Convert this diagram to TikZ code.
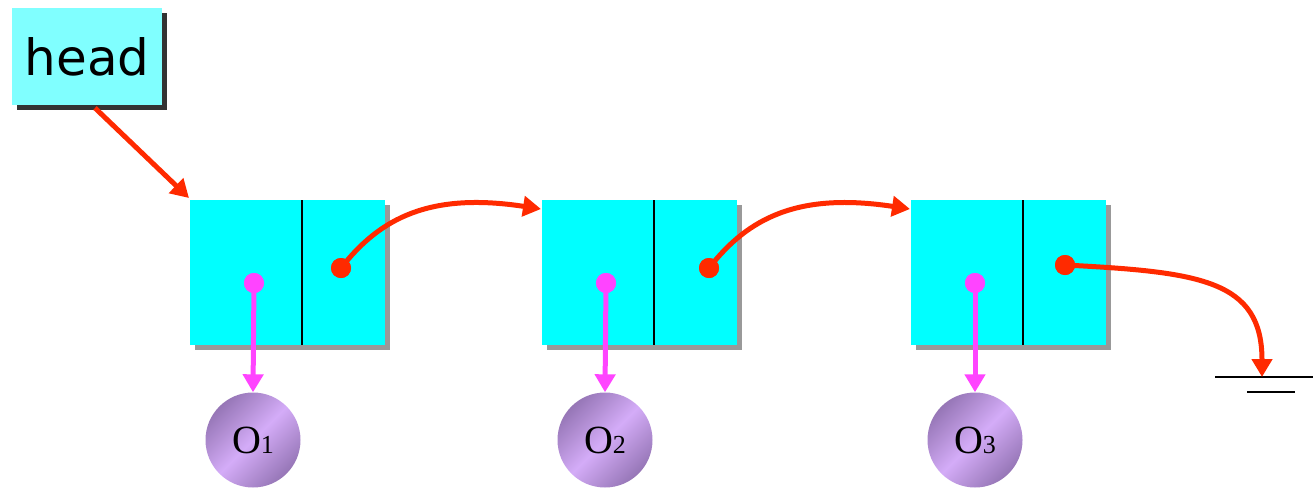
\documentclass[tikz,border=0pt]{standalone}
\usepackage{fontspec}
\setmainfont{Liberation Serif}
\newfontfamily\headfont{DejaVu Sans}
\usetikzlibrary{arrows.meta}
\definecolor{cellcyan}{RGB}{0,255,255}
\definecolor{headcyan}{RGB}{128,255,255}
\definecolor{ptrred}{RGB}{255,42,0}
\definecolor{ptrmag}{RGB}{255,68,255}
\definecolor{objdark}{RGB}{150,118,182}
\definecolor{objlight}{RGB}{212,172,248}
\tikzset{
  cellbox/.style={draw=none, fill=cellcyan, minimum width=195pt, minimum height=145pt, inner sep=0pt},
  cellshadow/.style={fill=black!40},
  reddot/.style={circle, fill=ptrred, minimum size=20pt, inner sep=0pt},
  magdot/.style={circle, fill=ptrmag, minimum size=20pt, inner sep=0pt},
  redptr/.style={draw=ptrred, line width=5pt, -{Triangle[length=18pt,width=20pt]}},
  magptr/.style={draw=ptrmag, line width=5pt, -{Triangle[length=18pt,width=20pt]}},
  objnode/.style={circle, minimum size=95pt, inner sep=0pt, shading=axis, top color=objdark, bottom color=objdark, middle color=objlight, shading angle=45},
}
\newcommand{\objlabel}[1]{{\fontsize{40}{40}\selectfont O}{\fontsize{26}{26}\selectfont #1}}
\begin{document}
\begin{tikzpicture}[x=1pt,y=-1pt]
\useasboundingbox (0,0) rectangle (1313,488);
% head
\fill[black!80] (17,13) rectangle (167,110);
\node[fill=headcyan, minimum width=150pt, minimum height=97pt, inner sep=0pt] (head) at (87,56.5) {\headfont\fontsize{50}{50}\selectfont head};
% cells
\foreach \n/\x in {1/190,2/542,3/911}{
  \fill[cellshadow] (\x+5,205) rectangle (\x+200,350);
  \node[cellbox, anchor=north west] (c\n) at (\x,200) {};
  \draw[line width=1.5pt] (\x+112,200) -- (\x+112,345);
}
% objects
\node[objnode] (o1) at (253,440) {\objlabel{1}};
\node[objnode] (o2) at (605,440) {\objlabel{2}};
\node[objnode] (o3) at (975,440) {\objlabel{3}};
% data pointers
\node[magdot] (m1) at (254,283) {};
\node[magdot] (m2) at (606,283) {};
\node[magdot] (m3) at (975,283) {};
\draw[magptr] (m1.center) -- (o1.north);
\draw[magptr] (m2.center) -- (o2.north);
\draw[magptr] (m3.center) -- (o3.north);
% next pointers
\node[reddot] (r1) at (341,268) {};
\node[reddot] (r2) at (709,268) {};
\node[reddot] (r3) at (1065,265) {};
\coordinate (in2) at (541,209);
\coordinate (in3) at (910,209);
\draw[redptr] (r1.center) .. controls (380,218) and (430,192) .. (in2);
\draw[redptr] (r2.center) .. controls (748,218) and (798,192) .. (in3);
% head pointer
\coordinate (hs) at (95,108);
\coordinate (in1) at (189,198);
\draw[redptr] (hs) -- (in1);
% ground
\coordinate (g1) at (1215,377);
\coordinate (g2) at (1313,377);
\coordinate (g3) at (1247,392);
\coordinate (g4) at (1295,392);
\coordinate (gt) at (1262,377);
\draw[line width=1.5pt] (g1) -- (g2);
\draw[line width=1.5pt] (g3) -- (g4);
\draw[redptr] (r3.center) .. controls (1200,272) and (1262,280) .. (gt);
\node[reddot] at (r1) {};
\node[reddot] at (r2) {};
\node[reddot] at (r3) {};
\node[magdot] at (m1) {};
\node[magdot] at (m2) {};
\node[magdot] at (m3) {};
\end{tikzpicture}
\end{document}
